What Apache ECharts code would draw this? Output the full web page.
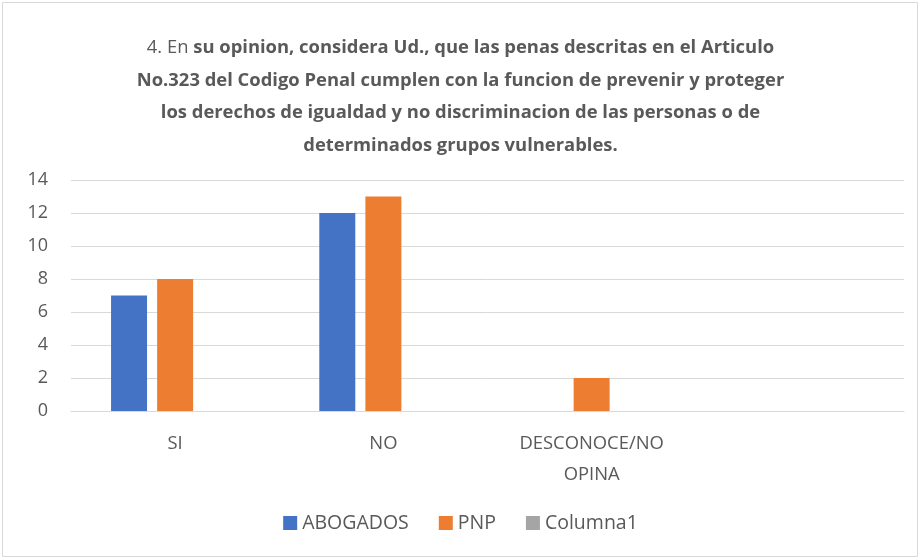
<!DOCTYPE html>
<html lang="es">
<head>
    <meta charset="UTF-8">
    <title>Articulo 323</title>
    <script src="https://cdn.jsdelivr.net/npm/echarts@6/dist/echarts.min.js"></script>
    <style>
        * { margin: 0; padding: 0; }
        #chart { width: 921px; height: 560px; }
    </style>
</head>
<body>
    <div id="chart"></div>
    <script>
        const categories = ['SI', 'NO', 'DESCONOCE/NO\nOPINA', ''];
        const abogados = [7, 12, '-', '-'];
        const pnp = [8, 13, 2, '-'];
        const columna1 = ['-', '-', '-', '-'];
        const yTicks = { min: 0, max: 14, interval: 2 };

        const textColor = '#595959';
        const font = 'Open Sans';

        const chart = echarts.init(document.getElementById('chart'), null, { renderer: 'canvas' });

        const option = {
            backgroundColor: '#fff',
            animation: false,
            graphic: [{
                type: 'rect',
                shape: { x: 2.5, y: 2.5, width: 915, height: 554 },
                style: { fill: 'none', stroke: '#d9d9d9', lineWidth: 1 }
            }],
            title: {
                left: 'center',
                top: 27,
                textStyle: {
                    fontWeight: 'normal',
                    rich: {
                        n: { fontFamily: font, fontSize: 18.4, fontWeight: 'normal', color: textColor, lineHeight: 32.5 },
                        b: { fontFamily: font, fontSize: 18.4, fontWeight: 'bold', color: textColor, lineHeight: 32.5 }
                    }
                },
                text: '{n|4. En }{b|su opinion, considera Ud., que las penas descritas en el Articulo}\n' +
                      '{b|No.323 del Codigo Penal cumplen con la funcion de prevenir y proteger}\n' +
                      '{b|los derechos de igualdad y no discriminacion de las personas o de}\n' +
                      '{b|determinados grupos vulnerables.}'
            },
            legend: {
                bottom: 22,
                left: 'center',
                itemWidth: 14,
                itemHeight: 14,
                itemGap: 30,
                icon: 'rect',
                textStyle: { fontFamily: font, fontSize: 19.5, color: textColor },
                data: ['ABOGADOS', 'PNP', 'Columna1']
            },
            grid: { left: 71, right: 17, top: 180, bottom: 149 },
            xAxis: {
                type: 'category',
                data: categories,
                axisLine: { lineStyle: { color: '#d9d9d9' } },
                axisTick: { show: false },
                axisLabel: {
                    fontFamily: font, fontSize: 18.4, color: textColor,
                    margin: 17, lineHeight: 31, interval: 0
                }
            },
            yAxis: {
                type: 'value',
                min: yTicks.min,
                max: yTicks.max,
                interval: yTicks.interval,
                axisLine: { show: false },
                axisTick: { show: false },
                splitLine: { lineStyle: { color: '#d9d9d9', width: 1 } },
                axisLabel: { fontFamily: font, fontSize: 18, color: textColor, margin: 23 }
            },
            series: [
                { name: 'ABOGADOS', type: 'bar', data: abogados, barWidth: 36, barGap: '28%', itemStyle: { color: '#4472c4' } },
                { name: 'PNP', type: 'bar', data: pnp, barWidth: 36, barGap: '28%', itemStyle: { color: '#ed7d31' } },
                { name: 'Columna1', type: 'bar', data: columna1, barWidth: 36, barGap: '28%', itemStyle: { color: '#a5a5a5' } }
            ]
        };

        chart.setOption(option);
        window.addEventListener('resize', chart.resize);
    </script>
</body>
</html>
